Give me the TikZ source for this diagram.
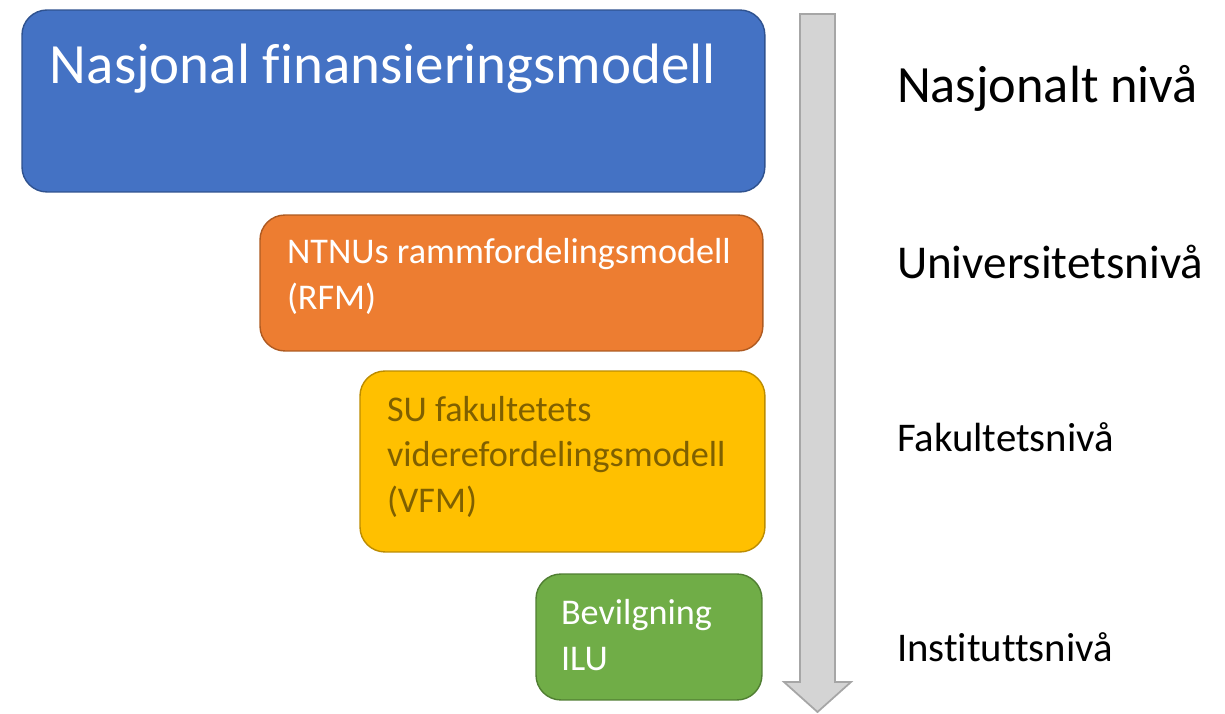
\documentclass[tikz,border=0pt]{standalone}
\usepackage{fontspec}
\setmainfont[Ligatures=NoCommon]{Carlito}
\usepackage{tikz}
\usetikzlibrary{positioning}
\definecolor{blueFill}{HTML}{4472C4}
\definecolor{blueLine}{HTML}{2F528F}
\definecolor{orangeFill}{HTML}{ED7D31}
\definecolor{orangeLine}{HTML}{AE5A21}
\definecolor{yellowFill}{HTML}{FFC000}
\definecolor{yellowLine}{HTML}{BC8C00}
\definecolor{yellowText}{HTML}{7F6000}
\definecolor{greenFill}{HTML}{70AD47}
\definecolor{greenLine}{HTML}{507E32}
\definecolor{arrowFill}{HTML}{D4D4D4}
\definecolor{arrowLine}{HTML}{A6A6A6}
\tikzstyle{every node}+=[inner sep=0pt, outer sep=0pt]
\tikzstyle{level} = [rectangle, draw, rounded corners=0.5cm, line width=0.8pt, anchor=north west]
\tikzstyle{leveltext} = [anchor=base west, align=left, white]
\tikzstyle{levelname} = [anchor=base west, black]
\newcommand{\fsize}[1]{\fontsize{#1}{1.25\dimexpr #1\relax}\selectfont}

\begin{document}
\begin{tikzpicture}[x=0.02cm, y=-0.02cm]
            \useasboundingbox (0,0) rectangle (1225,714);
            % Arrow
            \draw [fill=arrowFill, draw=arrowLine, line width=1pt, line join=miter]
              (800,14) -- (835,14) -- (835,682) -- (851,682) -- (817.5,712)
              -- (784,682) -- (800,682) -- cycle;
            % Place boxes
            \node [level, fill=blueFill, draw=blueLine, minimum width=14.86cm, minimum height=3.64cm] (nasj) at (22,10) {};
            \node [level, fill=orangeFill, draw=orangeLine, minimum width=10.06cm, minimum height=2.72cm] (rfm) at (260,215) {};
            \node [level, fill=yellowFill, draw=yellowLine, minimum width=8.1cm, minimum height=3.62cm] (vfm) at (360,371) {};
            \node [level, fill=greenFill, draw=greenLine, minimum width=4.52cm, minimum height=2.52cm] (ilu) at (536,574) {};
            % Box texts (anchored on the last baseline)
            \node [leveltext, font=\fsize{32.4pt}] (tnasj) at ([shift={(28,73)}]nasj.north west) {Nasjonal finansieringsmodell};
            \node [leveltext, font=\fsize{20.6pt}] (trfm) at ([shift={(27,94)}]rfm.north west) {NTNUs rammfordelingsmodell\\(RFM)};
            \node [leveltext, yellowText, font=\fsize{20.6pt}] (tvfm) at ([shift={(27,141)}]vfm.north west) {SU fakultetets\\viderefordelingsmodell\\(VFM)};
            \node [leveltext, font=\fsize{20.6pt}] (tilu) at ([shift={(25,96)}]ilu.north west) {Bevilgning\\ILU};
            % Level names
            \node [levelname, font=\fsize{29.8pt}] (lnasj) at (897,102) {Nasjonalt nivå};
            \node [levelname, font=\fsize{26.8pt}] (lrfm) at (897,278) {Universitetsnivå};
            \node [levelname, font=\fsize{23.2pt}] (lvfm) at (897,451) {Fakultetsnivå};
            \node [levelname, font=\fsize{23.2pt}] (lilu) at (897,661) {Instituttsnivå};
          \end{tikzpicture}
\end{document}
